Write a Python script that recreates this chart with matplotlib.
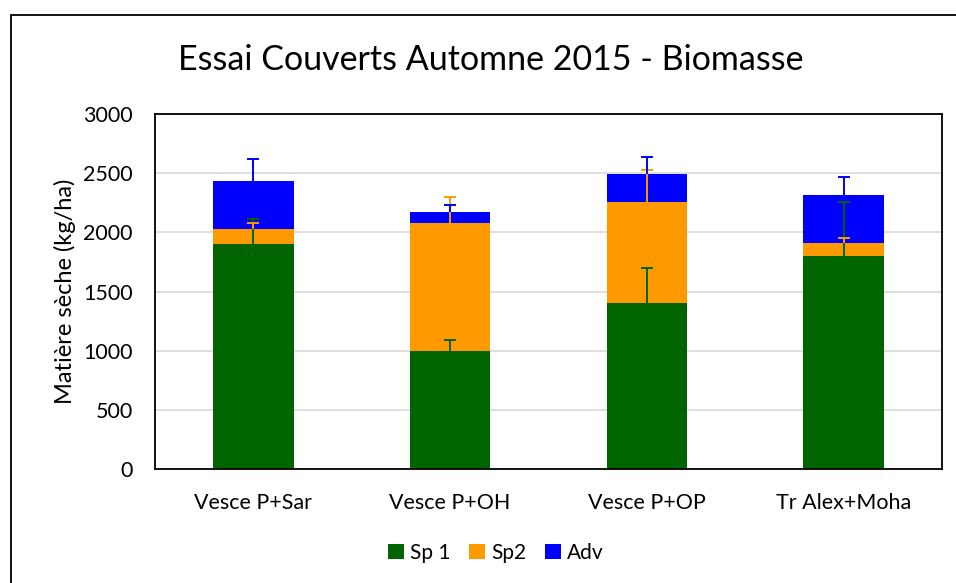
import matplotlib
matplotlib.use("Agg")
import matplotlib.pyplot as plt
from matplotlib.patches import Rectangle
import numpy as np

plt.rcParams['font.family'] = ['Lato', 'DejaVu Sans']

categories = ["Vesce P+Sar", "Vesce P+OH", "Vesce P+OP", "Tr Alex+Moha"]
sp1 = [1900, 1000, 1400, 1800]
sp2 = [130, 1080, 855, 110]
adv = [400, 90, 240, 405]
err_sp1 = [210, 90, 300, 460]
err_sp2 = [50, 215, 270, 40]
err_adv = [190, 65, 140, 150]
series_names = ["Sp 1", "Sp2", "Adv"]
colors = ["#006400", "#FF9900", "#0000FF"]
yticks = [0, 500, 1000, 1500, 2000, 2500, 3000]

fig = plt.figure(figsize=(9.56, 5.83), dpi=100)
fig.patches.append(Rectangle((11/956, -0.1), 1.2, 1 - 15/583 + 0.1,
                             transform=fig.transFigure, fill=False,
                             edgecolor='black', linewidth=1.3, zorder=0))
ax = fig.add_axes([155/956, 1 - 469/583, 787/956, 355/583])

x = np.arange(len(categories))
w = 0.41
s1 = np.array(sp1); s2 = np.array(sp2); s3 = np.array(adv)
ax.bar(x, s1, w, color=colors[0], label=series_names[0], zorder=2)
ax.bar(x, s2, w, bottom=s1, color=colors[1], label=series_names[1], zorder=2)
ax.bar(x, s3, w, bottom=s1 + s2, color=colors[2], label=series_names[2], zorder=2)

tops = [s1, s1 + s2, s1 + s2 + s3]
errs = [err_sp1, err_sp2, err_adv]
cap = 0.031
for t, e, c in zip(tops, errs, colors):
    e = np.array(e)
    ax.vlines(x, t, t + e, colors=c, linewidth=1.4, zorder=4)
    ax.hlines(t + e, x - cap, x + cap, colors=c, linewidth=1.4, zorder=4)

ax.set_xlim(-0.5, 3.5)
ax.set_ylim(0, 3000)
ax.set_yticks(yticks)
ax.set_yticklabels([str(v) for v in yticks], fontsize=15.5)
ax.set_xticks(x)
ax.set_xticklabels(categories, fontsize=15.5)
ax.tick_params(axis='both', length=0)
ax.tick_params(axis='y', pad=16)
ax.tick_params(axis='x', pad=17)
ax.yaxis.grid(True, color='#d9d9d9', linewidth=1.2, zorder=0)
ax.set_axisbelow(True)
for sp in ax.spines.values():
    sp.set_color('black')
    sp.set_linewidth(1.3)
ax.set_ylabel("Matière sèche (kg/ha)", fontsize=17, labelpad=5)

fig.text(491/956, 1 - 60/583, "Essai Couverts Automne 2015 - Biomasse",
         ha='center', va='center', fontsize=24.5)

leg = fig.legend(loc='center', bbox_to_anchor=(496/956, 1 - 553/583), ncol=3,
                 frameon=False, fontsize=15, handlelength=0.75, handleheight=0.75,
                 handletextpad=0.3, columnspacing=0.9)

fig.savefig("out.png", dpi=100)
